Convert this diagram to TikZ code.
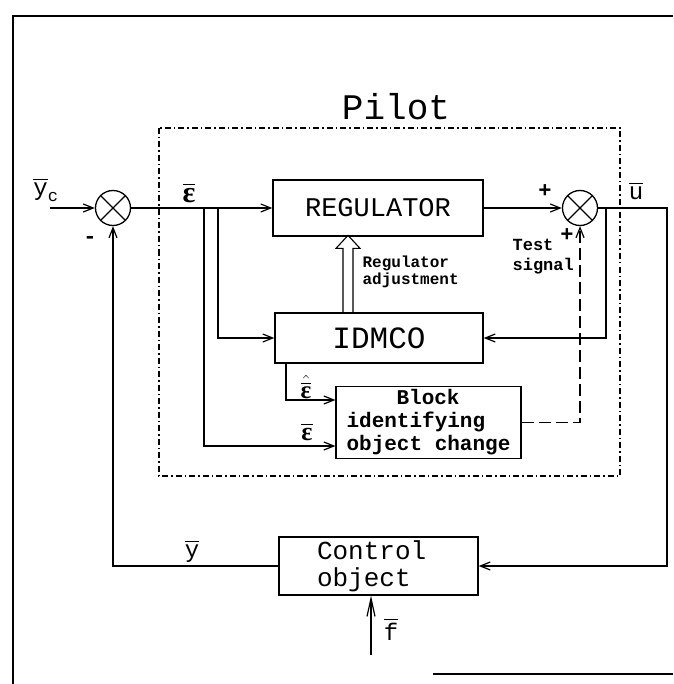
\documentclass[tikz,border=0pt]{standalone}
\usepackage{amsmath, amssymb}
\usepackage{fontspec}
\setmainfont{Liberation Mono}
\newfontfamily\grkfont{Liberation Serif}
\usetikzlibrary{arrows.meta, positioning, calc}

\begin{document}
\begin{tikzpicture}[
    x=1pt, y=-1pt,
    blk/.style={draw, line width=1.3pt, inner sep=3pt},
    sum/.style={circle, draw, line width=1.3pt, minimum size=35pt, inner sep=0pt,
        path picture={\draw[line width=1.1pt]
            (path picture bounding box.north west) -- (path picture bounding box.south east)
            (path picture bounding box.north east) -- (path picture bounding box.south west);}},
    lbl/.style={inner sep=1pt, font=\fontsize{24}{24}\selectfont},
    eps/.style={inner sep=1pt, font=\grkfont\bfseries\fontsize{30}{30}\selectfont},
    sgn/.style={inner sep=0pt, font=\bfseries\fontsize{22}{22}\selectfont},
    sml/.style={inner sep=0pt, align=left, font=\bfseries\fontsize{16}{17}\selectfont},
    arr/.style={-{Straight Barb[length=10pt, width=8pt]}},
    line width=1.2pt
]
    \useasboundingbox (0,0) rectangle (673,684);

    % Frame
    \draw[line width=2.6pt] (673,16) -- (13,16) -- (13,684);
    \draw[line width=1.4pt] (433,674) -- (673,674);

    % Pilot boundary
    \draw[line width=1.1pt, dash pattern=on 6pt off 3pt on 1.5pt off 3pt]
        (159,128) rectangle (620,476);
    \node[font=\fontsize{36}{36}\selectfont] (pilot) at (396,107) {Pilot};

    % Nodes (manual layout)
    \node[sum] (S1) at (113,208) {};
    \node[blk, minimum width=210, minimum height=56, font=\fontsize{27}{28}\selectfont] (REG) at (378,208) {REGULATOR};
    \node[sum] (S2) at (580,208) {};
    \node[blk, minimum width=208, minimum height=50, font=\fontsize{31}{32}\selectfont] (ID) at (379,338) {IDMCO};
    \node[blk, minimum height=69, inner xsep=10.5, align=left,
          font=\bfseries\fontsize{21}{23}\selectfont] (BL) at (428.5,422.5)
        {\hspace*{50pt}Block\\identifying\\object change};
    \node[blk, minimum height=58, text width=123, inner xsep=38, align=left,
          font=\fontsize{26}{27}\selectfont] (CO) at (378.5,566)
        {Control\\object};

    % Branch points and free ends
    \coordinate (yin) at (50,208);
    \coordinate (eA) at (204,208);
    \coordinate (eB) at (218,208);
    \coordinate (uB) at (606,208);
    \coordinate (uR) at (667,208);
    \coordinate (fin) at (371,655);
    \coordinate (yL) at (113,566);

    % Main loop
    \draw[arr] (yin) -- (S1);
    \draw[arr] (S1) -- (REG);
    \draw[arr] (REG) -- (S2);
    \draw[arr] (S2) -- (uR) |- (CO);
    \draw[arr] (CO) -- (yL) -- (S1);
    \draw[-{Straight Barb[length=18pt, width=8pt]}] (fin) -- (fin |- CO.south);

    % Inside the pilot
    \draw[arr] (eB) |- (ID);
    \draw[arr] (uB) |- (ID);
    \draw[arr] (eA) |- ([yshift=-23.5pt]BL.west);
    \draw[arr] ([xshift=-93pt]ID.south) |- ([yshift=22.5pt]BL.west);
    \draw[arr, dash pattern=on 12pt off 5pt] (BL) -| (S2);

    % Regulator adjustment (hollow arrow)
    \draw[line width=1.1pt] ($(ID.north)+(-36,0)$) -- ++(0,-64) -- ++(-7,0) -- ++(12,-13)
        -- ++(12,13) -- ++(-7,0) -- ++(0,64);

    % Labels
    \node[lbl] (lyc) at (46,190) {$\overline{\mbox{y}}_{\mbox{\fontsize{17}{17}\selectfont c}}$};
    \node[sgn] (lm) at (90,240) {-};
    \node[eps] (le1) at (189,193) {$\overline{\mbox{ε}}$};
    \node[sgn] (lp1) at (545,191) {+};
    \node[sgn] (lp2) at (567,235) {+};
    \node[lbl] (lu) at (636,191) {$\overline{\mbox{u}}$};
    \node[sml, anchor=west] (ladj) at (362,272) {Regulator\\adjustment};
    \node[sml, anchor=west, font=\bfseries\fontsize{17}{20}\selectfont] (ltest) at (512,257) {Test\\signal};
    \node[eps, inner sep=0pt, font=\grkfont\bfseries\fontsize{25}{25}\selectfont] (le2) at (306,387) {$\hat{\overline{\mbox{ε}}}$};
    \node[eps, font=\grkfont\bfseries\fontsize{26}{26}\selectfont] (le3) at (307,432) {$\overline{\mbox{ε}}$};
    \node[lbl] (ly) at (192,551) {$\overline{\mbox{y}}$};
    \node[lbl] (lf) at (391,629) {$\overline{\mbox{f}}$};
\end{tikzpicture}
\end{document}
